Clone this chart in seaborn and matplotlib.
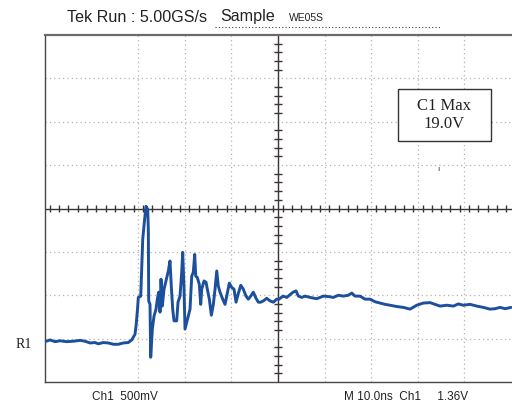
import numpy as np
import pandas as pd
import matplotlib
matplotlib.use("Agg")
import matplotlib.pyplot as plt
from matplotlib.patches import Rectangle
import seaborn as sns

# ---- data (time in ns, amplitude in divisions) ----
time_ns = [0.00, 1.07, 2.15, 3.22, 4.66, 6.08, 7.51, 8.58, 9.66, 10.73, 11.44, 12.51,
           13.58, 14.66, 15.73, 16.80, 17.88, 18.61, 19.31, 19.57, 19.85, 20.02, 20.54,
           20.97, 21.31, 21.67, 22.04, 22.17, 22.25, 22.53, 22.68, 23.03, 23.39, 23.82,
           24.10, 24.40, 24.68, 24.89, 25.17, 25.54, 26.12, 26.46, 26.82, 27.10, 27.40,
           27.68, 28.26, 28.54, 28.97, 29.33, 29.55, 29.83, 30.04, 30.41, 30.75, 31.12,
           31.48, 31.82, 32.12, 32.34, 32.68, 33.11, 33.41, 33.63, 34.12, 34.55, 34.83,
           35.26, 35.69, 36.12, 36.48, 36.85, 37.19, 37.55, 38.13, 38.63, 38.99, 39.55,
           40.06, 40.56, 40.99, 41.42, 42.00, 42.55, 43.13, 43.63, 44.14, 44.70, 45.28,
           45.77, 46.29, 46.85, 47.57, 48.28, 48.99, 49.72, 50.21, 51.07, 51.87, 53.22,
           53.86, 54.36, 55.09, 55.79, 56.87, 58.30, 59.72, 60.79, 61.87, 62.94, 64.01,
           65.08, 65.82, 66.52, 67.60, 68.67, 69.74, 70.81, 71.89, 72.96, 74.03, 75.47,
           76.89, 78.33, 79.76, 81.18, 82.62, 83.69, 84.76, 86.20, 87.62, 88.69, 89.76,
           91.20, 92.64, 94.05, 95.48, 96.57, 97.64, 98.71, 100.0]
amplitude_div = [-3.07, -3.03, -3.07, -3.05, -3.07, -3.06, -3.04, -3.06, -3.10, -3.09, -3.12, -3.09,
                 -3.10, -3.13, -3.13, -3.10, -3.09, -3.03, -2.90, -2.67, -2.32, -2.05, -2.02,
                 -0.71, -0.32, 0.05, -0.02, -0.48, -2.13, -2.21, -3.43, -2.78, -2.48, -2.32,
                 -2.09, -1.93, -2.39, -1.63, -2.25, -1.86, -1.59, -1.44, -1.21, -1.79, -2.32,
                 -2.59, -2.59, -2.16, -2.02, -1.47, -1.01, -1.86, -2.78, -2.62, -2.48, -2.32,
                 -1.56, -1.47, -1.06, -1.56, -1.59, -1.75, -2.21, -1.86, -1.67, -1.70, -1.86,
                 -2.09, -2.46, -2.21, -1.86, -1.44, -1.79, -1.93, -2.09, -2.21, -2.02, -1.72,
                 -1.82, -1.86, -2.16, -1.98, -1.77, -1.86, -2.02, -2.09, -2.02, -1.93, -2.07,
                 -2.16, -2.16, -2.13, -2.07, -2.13, -2.16, -2.09, -2.09, -2.02, -2.05, -1.93,
                 -1.90, -2.02, -2.05, -2.02, -2.05, -2.08, -2.02, -2.03, -2.05, -2.00, -2.02,
                 -2.00, -1.95, -2.02, -2.02, -2.09, -2.09, -2.15, -2.18, -2.21, -2.23, -2.26,
                 -2.28, -2.32, -2.23, -2.18, -2.17, -2.21, -2.25, -2.23, -2.25, -2.20, -2.23,
                 -2.21, -2.25, -2.28, -2.32, -2.31, -2.28, -2.31, -2.28]

grid_x = [20, 30, 40, 60, 70, 80, 90]
grid_y = [-3, -2, -1, 1, 2, 3]

header_text = "Tek Run : 5.00GS/s"
mode_text = "Sample"
id_text = "WE05S"
ch_scale_text = "Ch1  500mV"
time_text = "M 10.0ns  Ch1     1.36V"
ref_label = "R1"
meas_text = "C1 Max\n19.0V"

df = pd.DataFrame({"t": time_ns, "v": amplitude_div})

sns.set_style("white")
plt.rcParams['font.family'] = ['Liberation Sans', 'DejaVu Sans']

fig = plt.figure(figsize=(5.12, 4.07), dpi=100)
ax = fig.add_axes([45/512, 25/407, 467/512, 347/407])
ax.set_xlim(0, 100.2)
ax.set_ylim(-4, 4)

grid_col = "#b9b2aa"
for gx in grid_x:
    ax.axvline(gx, color=grid_col, lw=0.9, ls=(0, (1, 2.5)), zorder=1)
for gy in grid_y:
    ax.axhline(gy, color=grid_col, lw=0.9, ls=(0, (1, 2.5)), zorder=1)

# center cross with minor ticks
ax.axhline(0, color="#3a3533", lw=1.0, zorder=2)
ax.axvline(50, color="#3a3533", lw=1.0, zorder=2)
tx = [v for v in np.arange(1, 100, 2.0) if abs(v / 10 - round(v / 10)) > 1e-6]
ax.vlines(tx, -0.09, 0.09, color="#3a3533", lw=1.0, zorder=2)
ty = [v for v in np.arange(-3.8, 4.0, 0.2) if abs(v - round(v)) > 1e-6]
ax.hlines(ty, 49.1, 50.9, color="#3a3533", lw=1.0, zorder=2)

sns.lineplot(data=df, x="t", y="v", ax=ax, color="#1c4f9c", lw=2.1,
             sort=False, estimator=None, zorder=3)

ax.set_xticks([])
ax.set_yticks([])
ax.set_xlabel("")
ax.set_ylabel("")
ax.spines["right"].set_visible(False)
ax.spines["top"].set_color("#6e6a68")
ax.spines["top"].set_linewidth(1.6)
ax.spines["left"].set_color("#4a4644")
ax.spines["left"].set_linewidth(1.0)
ax.spines["bottom"].set_color("#4a4644")
ax.spines["bottom"].set_linewidth(1.0)

# measurement box
ax.add_patch(Rectangle((75.8, 1.56), 19.9, 1.2, fc="white", ec="#333", lw=1.0, zorder=5))
ax.text(85.6, 2.16, meas_text, ha="center", va="center", fontsize=12,
        family=["Liberation Serif", "DejaVu Serif"], linespacing=1.15, color="#222", zorder=6)
ax.text(84.5, 0.9, "ı", ha="center", va="center", fontsize=6, color="#333")

# header
fig.text(67/512, 1 - 17/407, header_text, ha="left", va="center", fontsize=11.6, color="#222")
fig.text(220/512, 1 - 17/407, mode_text, ha="left", va="center", fontsize=11.6, color="#222")
fig.text(289/512, 1 - 18/407, id_text, ha="left", va="center", fontsize=7.5, color="#222")
fig.add_artist(plt.Line2D([215/512, 440/512], [1 - 27/407, 1 - 27/407],
                          color="#444", lw=0.8, ls=(0, (1, 2))))

# footer
fig.text(92/512, 1 - 397/407, ch_scale_text, ha="left", va="center", fontsize=8.5,
         color="#222", family=["Liberation Sans Narrow", "Liberation Sans"])
fig.text(344/512, 1 - 397/407, time_text, ha="left", va="center", fontsize=8.5,
         color="#222", family=["Liberation Sans Narrow", "Liberation Sans"])

# reference marker
fig.text(16/512, 1 - 345/407, ref_label, ha="left", va="center", fontsize=10,
         color="#222", family=["Liberation Serif", "DejaVu Serif"])

fig.savefig("out.png", dpi=100)
